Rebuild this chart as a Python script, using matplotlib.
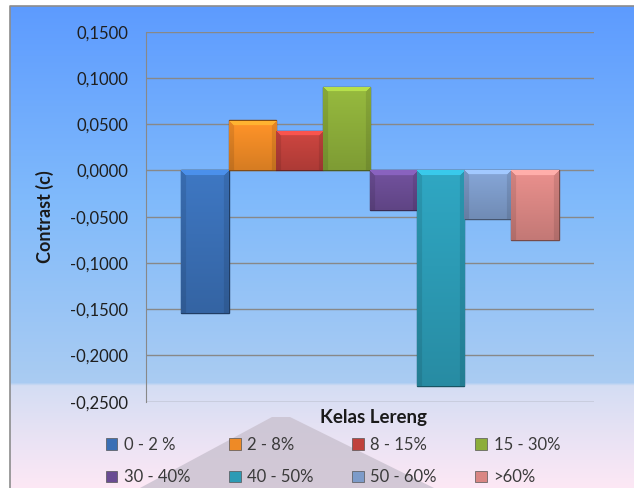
import numpy as np
from matplotlib import pyplot as plt
from matplotlib.patches import Polygon, Patch
from matplotlib.colors import to_rgb
from matplotlib.ticker import FuncFormatter, MultipleLocator

plt.rcParams['font.family'] = ['Lato', 'DejaVu Sans']

kelas = ["0 - 2 %", "2 - 8%", "8 - 15%", "15 - 30%",
         "30 - 40%", "40 - 50%", "50 - 60%", ">60%"]
contrast = [-0.154, 0.054, 0.043, 0.090, -0.043, -0.233, -0.053, -0.075]
warna = ["#3A6FB5", "#EE8A26", "#C0413C", "#8CAD3A",
         "#6A4C93", "#2C9BB5", "#7D9BC9", "#D98683"]

W, H = 634, 488
fig = plt.figure(figsize=(W / 100, H / 100), dpi=100)

# background panel with vertical gradient
bg = fig.add_axes([0, 0, 1, 1])
bg.set_xlim(0, W)
bg.set_ylim(H, 0)
bg.axis("off")
stops = [(6, "#5D9BFF"), (200, "#80BAFB"), (383, "#AACCF2"),
         (386, "#D4DDF3"), (488, "#FDE8F5")]
ys = np.arange(6, H + 1)
cols = np.zeros((len(ys), 1, 3))
for ch in range(3):
    cols[:, 0, ch] = np.interp(ys, [s[0] for s in stops],
                               [to_rgb(s[1])[ch] for s in stops])
bg.imshow(cols, extent=(10, W, H, 6), aspect="auto", interpolation="bilinear")
bg.plot([10, 10, W], [H, 6, 6], color="#8C8C8C", lw=1.2)
bg.add_patch(Polygon([(140, H), (272, 417), (290, 417), (434, H)],
                     closed=True, color="#C9C1CF", alpha=0.8, lw=0))

ax = fig.add_axes([146 / W, 1 - 401.7 / H, 448 / W, 370 / H])
ax.patch.set_alpha(0)
x = np.arange(len(kelas))


def bevel(rgb, nrows, ncols=47, band=5):
    # shaded face: lighter top edge, darker sides, fading down
    r = np.arange(nrows)[:, None]
    c = np.arange(ncols)[None, :]
    f = 1.08 - 0.18 * r / max(nrows - 1, 1)
    f = np.broadcast_to(f, (nrows, ncols)).copy()
    side = np.minimum(c, ncols - 1 - c)
    f[:, :] *= np.where(side < band, 0.9, 1.0)
    top = r < band
    f = np.where(top & (side >= r), 1.3, f)
    img = np.clip(rgb[None, None, :] * f[:, :, None], 0, 1)
    return img


for i, (v, c) in enumerate(zip(contrast, warna)):
    rgb = np.array(to_rgb(c))
    bar = ax.bar(x[i], v, width=1.0, color=c, edgecolor=tuple(rgb * 0.55),
                 linewidth=1.0, zorder=3)[0]
    nrows = max(int(abs(v) * 925), 8)
    im = ax.imshow(bevel(rgb, nrows), extent=(x[i] - 0.5, x[i] + 0.5, min(v, 0), max(v, 0)),
                   aspect="auto", origin="upper", zorder=3.5, interpolation="bilinear")
    im.set_clip_path(bar)

ax.set_xlim(-1.25, 8.25)
ax.set_ylim(-0.25, 0.15)
ax.yaxis.set_major_locator(MultipleLocator(0.05))
ax.yaxis.set_major_formatter(FuncFormatter(lambda v, p: f"{v:.4f}".replace(".", ",")))
ax.grid(axis="y", color="#888888", lw=1, zorder=0)
ax.set_xticks([])
ax.tick_params(axis="y", length=0, pad=13, labelsize=12, labelcolor="#1F1F1F")
for s in ["top", "right", "bottom"]:
    ax.spines[s].set_visible(False)
ax.spines["left"].set_color("#888888")

fig.text(45 / W, 1 - 217 / H, "Contrast (c)", rotation=90, ha="center",
         va="center", fontsize=13, fontweight="bold", color="#1A1A1A")
fig.text(373 / W, 1 - 418 / H, "Kelas Lereng", ha="center", va="center",
         fontsize=13.5, fontweight="bold", color="#1A1A1A")

# legend filled row by row
order = [0, 4, 1, 5, 2, 6, 3, 7]
handles = [Patch(facecolor=warna[k], edgecolor="#555555", linewidth=0.5) for k in order]
fig.legend(handles, [kelas[k] for k in order], ncol=4, frameon=False, loc="center",
           bbox_to_anchor=(0.525, 1 - 461 / H), fontsize=12,
           handlelength=0.7, handleheight=0.7, handletextpad=0.4,
           columnspacing=2.3, labelspacing=1.0, labelcolor="#3A3A3A")

fig.savefig("out.png", dpi=100)
